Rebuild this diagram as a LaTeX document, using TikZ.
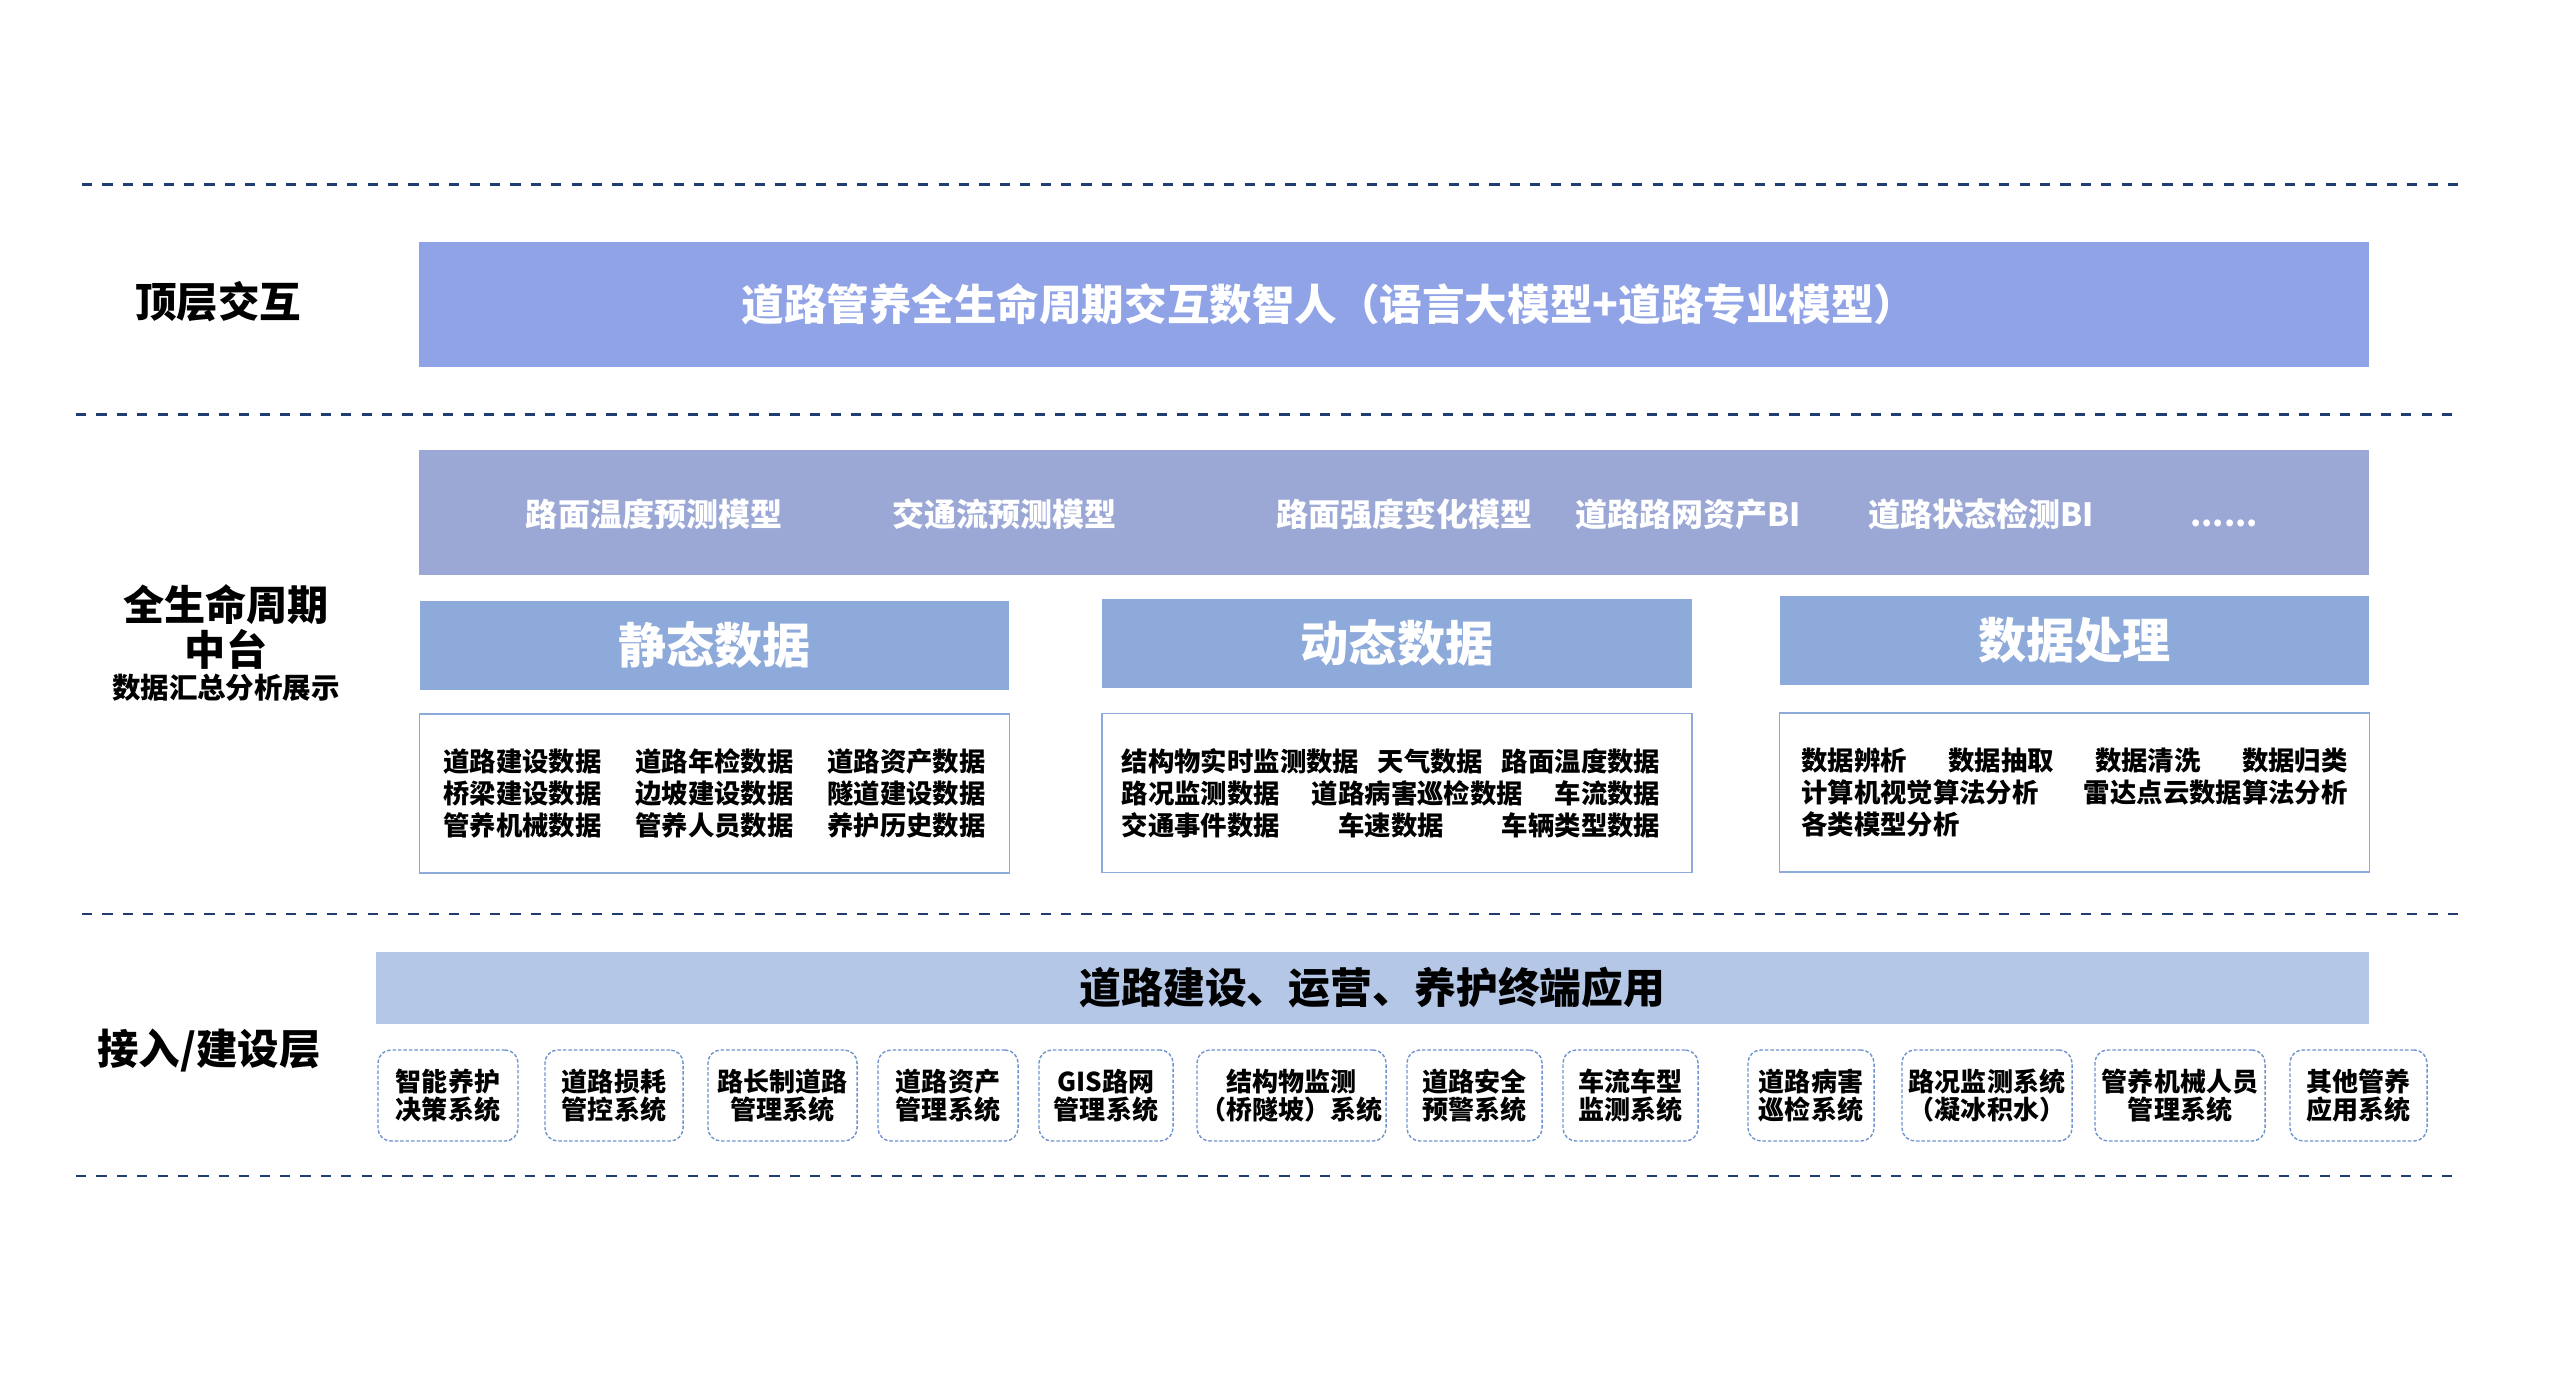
\documentclass[tikz,border=0pt]{standalone}
\usepackage{fontspec}
\newfontfamily\cjk{Noto Sans CJK SC}
\usetikzlibrary{positioning}
\definecolor{sepcol}{HTML}{1F3D6E}
\definecolor{topcol}{HTML}{8FA3E6}
\definecolor{modcol}{HTML}{9BA8D6}
\definecolor{headcol}{HTML}{8EAADB}
\definecolor{appcol}{HTML}{B4C7E7}
\definecolor{syscol}{HTML}{6F93CD}
\tikzset{
  layerline/.style={sepcol,line width=0.85pt,dash pattern=on 2.9pt off 2.9pt},
  layerlabel/.style={inner sep=0pt,font=\cjk\bfseries\fontsize{11.8}{14}\selectfont},
  bandbox/.style={rectangle,inner sep=0pt,font=\cjk\bfseries\fontsize{11.8}{14}\selectfont},
  headbox/.style={rectangle,inner sep=0pt,fill=headcol,text=white,minimum width=5.89cm,minimum height=0.89cm,font=\cjk\bfseries\fontsize{13.7}{16}\selectfont},
  databox/.style={rectangle,draw=headcol,line width=0.45pt,fill=white,minimum width=5.9cm,minimum height=1.59cm,inner sep=0pt,align=left,font=\cjk\bfseries\fontsize{7.5}{9.1}\selectfont},
  modeltext/.style={text=white,inner sep=0pt,anchor=base,font=\cjk\bfseries\fontsize{9.1}{11}\selectfont},
  sysbox/.style={rectangle,draw=syscol,line width=0.4pt,dash pattern=on 1pt off 0.55pt,rounded corners=3.7pt,minimum height=0.91cm,inner sep=0pt,align=center,font=\cjk\bfseries\fontsize{7.4}{8}\selectfont},
}
\newcommand{\datarow}[2]{\hbox to #1{#2}}

\begin{document}
\begin{tikzpicture}[x=0.01cm,y=-0.01cm]
  % --- Definitions ---
  \def\sysY{1095.5}  % centre line of the small system boxes
  \useasboundingbox (0,0) rectangle (2560,1386);

  % --- 1. Layer separators ---
  \foreach \y/\xa/\xb in {185/82/2466, 415/76/2461, 914/82/2466, 1176/76/2461}
    \draw[layerline] (\xa,\y) -- (\xb,\y);

  % --- 2. Top interaction layer ---
  \node[layerlabel] (toplbl) at (218,302) {顶层交互};
  \node[bandbox,fill=topcol,text=white,minimum width=19.48cm,minimum height=1.25cm,
    font=\cjk\bfseries\fontsize{12.1}{14}\selectfont] (interact) at (1394,304.5)
    {道路管养全生命周期交互数智人（语言大模型+道路专业模型）\hspace*{1.30cm}};

  % --- 3. Full life-cycle platform ---
  \node[layerlabel,font=\cjk\bfseries\fontsize{11.7}{14}\selectfont] (midlbl) at (226,605) {全生命周期};
  \node[layerlabel,font=\cjk\bfseries\fontsize{11.7}{14}\selectfont,below=0.03cm of midlbl] (midlbl2) {中台};
  \node[layerlabel,font=\cjk\bfseries\fontsize{8.1}{10}\selectfont,below=0.03cm of midlbl2] (midlbl3) {数据汇总分析展示};

  % Model band
  \node[bandbox,fill=modcol,minimum width=19.48cm,minimum height=1.25cm] (models) at (1394,512.5) {};
  \foreach \x/\name/\txt in {654/mtemp/{路面温度预测模型}, 1004/mflow/{交通流预测模型},
      1404/mstrength/{路面强度变化模型}, 1688/masset/{道路路网资产BI},
      1981/mstate/{道路状态检测BI}, 2224/mmore/{......}}
    \node[modeltext] (\name) at (\x,527) {\txt};

  % Data headers
  \node[headbox] (statichead) at (714.5,645.5) {静态数据};
  \node[headbox] (dynhead) at (1397,643.5) {动态数据};
  \node[headbox] (prochead) at (2074.5,640.5) {数据处理};

  % Data contents
  \node[databox] (static) at (714.5,793.5) {%
    \datarow{5.42cm}{道路建设数据\hfill 道路年检数据\hfill 道路资产数据}\\
    \datarow{5.42cm}{桥梁建设数据\hfill 边坡建设数据\hfill 隧道建设数据}\\
    \datarow{5.42cm}{管养机械数据\hfill 管养人员数据\hfill 养护历史数据}};
  \node[databox] (dynamic) at (1397,793) {%
    \datarow{5.38cm}{结构物实时监测数据\hfill 天气数据\hfill 路面温度数据}\hspace*{0.12cm}\\
    \datarow{5.38cm}{路况监测数据\hfill 道路病害巡检数据\hfill 车流数据}\hspace*{0.12cm}\\
    \datarow{5.38cm}{交通事件数据\hfill 车速数据\hfill 车辆类型数据}\hspace*{0.12cm}};
  \node[databox] (process) at (2074.5,792.5) {%
    \datarow{5.46cm}{数据辨析\hfill 数据抽取\hfill 数据清洗\hfill 数据归类}\\
    \datarow{5.46cm}{计算机视觉算法分析\hfill 雷达点云数据算法分析}\\
    \datarow{5.46cm}{各类模型分析\hfill}};

  % --- 4. Access / construction layer ---
  \node[layerlabel] (botlbl) at (209,1050) {接入/建设层};
  \node[bandbox,fill=appcol,minimum width=19.91cm,minimum height=0.72cm,
    font=\cjk\bfseries\fontsize{11.9}{14}\selectfont] (apps) at (1372.5,988)
    {道路建设、运营、养护终端应用};

  % Terminal systems
  \foreach \i/\x/\w/\txt in {1/448/1.40/{智能养护\\决策系统}, 2/614/1.38/{道路损耗\\管控系统},
      3/782.5/1.49/{路长制道路\\管理系统}, 4/948/1.40/{道路资产\\管理系统},
      5/1106/1.34/{GIS路网\\管理系统}, 6/1291.5/1.89/{结构物监测\\（桥隧坡）系统},
      7/1474.5/1.35/{道路安全\\预警系统}, 8/1630.5/1.35/{车流车型\\监测系统},
      9/1811/1.26/{道路病害\\巡检系统}, 10/1987/1.70/{路况监测系统\\（凝冰积水）},
      11/2180/1.70/{管养机械人员\\管理系统}, 12/2358.5/1.37/{其他管养\\应用系统}}
    \node[sysbox,minimum width=\w cm] (sys\i) at (\x,\sysY) {\txt};

\end{tikzpicture}
\end{document}
